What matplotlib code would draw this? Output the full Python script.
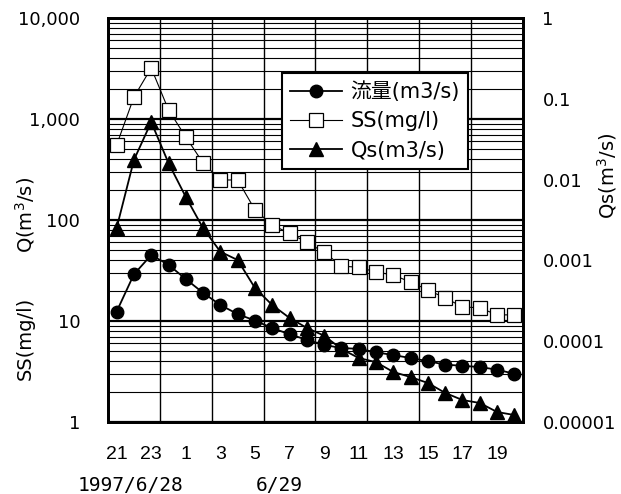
import matplotlib
matplotlib.use("Agg")
import matplotlib.pyplot as plt
from matplotlib.ticker import FixedLocator, LogLocator, NullFormatter, FixedFormatter

plt.rcParams['font.family'] = ['DejaVu Sans', 'Noto Sans CJK JP']

# hourly samples from 21h on 1997/6/28 to 20h on 6/29
hours = [21, 22, 23, 0, 1, 2, 3, 4, 5, 6, 7, 8, 9, 10, 11, 12, 13, 14, 15, 16, 17, 18, 19, 20]
tick_labels = ["21", "23", "1", "3", "5", "7", "9", "11", "13", "15", "17", "19"]

flow = [12.4, 29, 45, 36, 26, 19, 14.4, 11.7, 10.1, 8.5, 7.4, 6.5,
        5.8, 5.4, 5.3, 4.9, 4.6, 4.3, 4.0, 3.7, 3.6, 3.5, 3.3, 3.0]
ss = [553, 1650, 3200, 1230, 663, 367, 249, 249, 126, 89, 74, 60,
      48, 35, 34, 30.6, 28.5, 24.3, 20.3, 16.9, 13.8, 13.5, 11.5, 11.5]
qs = [0.00252, 0.0175, 0.0516, 0.016, 0.0061, 0.0025, 0.00128, 0.00101,
      0.000455, 0.00028, 0.000194, 0.000146, 0.000117, 0.00008, 0.000062,
      0.000055, 0.0000416, 0.000036, 0.0000304, 0.0000229, 0.0000187,
      0.0000172, 0.0000133, 0.0000122]

x = list(range(len(hours)))

fig = plt.figure(figsize=(6.21, 4.94), dpi=100)
ax = fig.add_axes([108 / 621, 72 / 494, 415 / 621, 404 / 494])
ax2 = ax.twinx()

l1, = ax.plot(x, flow, color="black", lw=1.3, marker="o", ms=9, label="流量(m3/s)")
l2, = ax.plot(x, ss, color="black", lw=0.8, marker="s", ms=9.5, mfc="white",
              mec="black", mew=0.9, label="SS(mg/l)")
l3, = ax2.plot(x, qs, color="black", lw=1.3, marker="^", ms=10, label="Qs(m3/s)")

ax.set_yscale("log")
ax.set_ylim(1, 10000)
ax.set_xlim(-0.5, len(hours) - 0.5)
ax.yaxis.set_major_locator(FixedLocator([1, 10, 100, 1000, 10000]))
ax.yaxis.set_major_formatter(FixedFormatter(["1", "10", "100", "1,000", "10,000"]))
ax.yaxis.set_minor_locator(LogLocator(base=10, subs=range(2, 10)))
ax.yaxis.set_minor_formatter(NullFormatter())

ax.set_xticks(range(0, len(hours), 2))
ax.set_xticklabels(tick_labels, family="Liberation Sans", fontsize=14)
ax.set_xticks([2.5 + 3 * k for k in range(7)], minor=True)

ax.grid(True, which="major", axis="y", color="black", lw=1.6)
ax.grid(True, which="minor", axis="y", color="black", lw=0.8)
ax.grid(True, which="minor", axis="x", color="black", lw=1.0)
ax.tick_params(axis="x", which="both", length=0, pad=17)
ax.tick_params(axis="y", which="both", length=0, pad=20, labelsize=13)

ax2.set_yscale("log")
ax2.set_ylim(0.00001, 1)
ax2.yaxis.set_major_locator(FixedLocator([1e-5, 1e-4, 1e-3, 1e-2, 1e-1, 1]))
ax2.yaxis.set_major_formatter(FixedFormatter(["0.00001", "0.0001", "0.001", "0.01", "0.1", "1"]))
ax2.yaxis.set_minor_formatter(NullFormatter())
ax2.tick_params(axis="y", which="both", length=0, pad=14, labelsize=13)

for a in (ax, ax2):
    for s in a.spines.values():
        s.set_linewidth(2)
        s.set_color("black")

leg = ax2.legend(handles=[l1, l2, l3], loc="upper left", bbox_to_anchor=(0.419, 0.864),
                 borderaxespad=0, fontsize=15, handlelength=2.5, handletextpad=0.4,
                 labelspacing=0.45, borderpad=0.4, fancybox=False, framealpha=1,
                 edgecolor="black")
leg.get_frame().set_linewidth(1.5)

fig.text(25 / 621, 1 - 215 / 494, "Q(m$^3$/s)", rotation=90, ha="center", va="center", fontsize=14)
fig.text(25 / 621, 1 - 338 / 494, "SS(mg/l)", rotation=90, ha="center", va="center", fontsize=14)
fig.text(607 / 621, 1 - 176 / 494, "Qs(m$^3$/s)", rotation=90, ha="center", va="center", fontsize=14)
fig.text(131 / 621, 1 - 485 / 494, "1997/6/28", ha="center", va="center",
         family="DejaVu Sans Mono", fontsize=14)
fig.text(279 / 621, 1 - 485 / 494, "6/29", ha="center", va="center",
         family="DejaVu Sans Mono", fontsize=14)

fig.savefig("out.png", dpi=100)
